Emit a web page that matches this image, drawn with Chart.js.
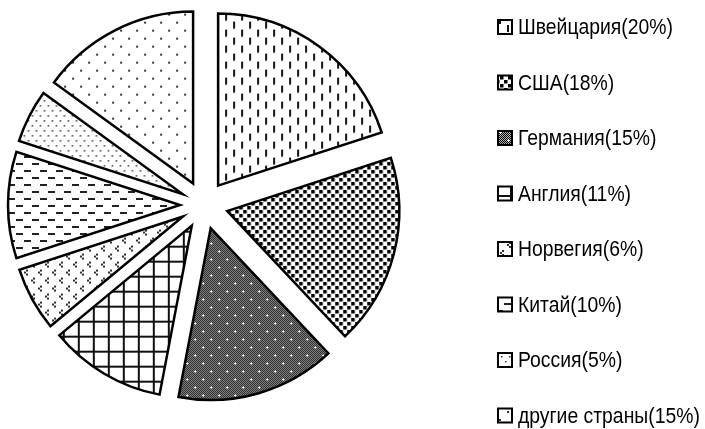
<!DOCTYPE html>
<html>
<head>
<meta charset="utf-8">
<script src="https://cdn.jsdelivr.net/npm/chart.js@4.4.1/dist/chart.umd.min.js"></script>
<style>
    html, body { margin: 0; background: #fff; }
</style>
</head>
<body>
<canvas id="pieChart" width="705" height="429"></canvas>
<script>
const countries = ['Швейцария', 'США', 'Германия', 'Англия', 'Норвегия', 'Китай', 'Россия', 'другие страны'];
const shares = [20, 18, 15, 11, 6, 10, 5, 15];
const fillKinds = ['vdash', 'confetti', 'darkgrid', 'grid', 'chevron', 'hdash', 'finedots', 'sparsedots'];

const sliceGap = 24;     // how far every slice is pulled out of the centre
const legendFont = '22px "Liberation Sans", Arial, sans-serif';
const legendSqueeze = 0.88;   // the original used a narrow face, none installed here

// little helper to build a repeating fill out of a tile
function makePattern(w, h, paint) {
    const tile = document.createElement('canvas');
    tile.width = w;
    tile.height = h;
    const g = tile.getContext('2d');
    g.fillStyle = '#fff';
    g.fillRect(0, 0, w, h);
    paint(g);
    return g.createPattern(tile, 'repeat');
}

const patternMakers = {
    vdash: () => makePattern(16, 16, g => {
        g.fillStyle = '#111';
        g.fillRect(3, 1, 2, 7);
        g.fillRect(11, 9, 2, 7);
    }),
    confetti: () => makePattern(8, 8, g => {
        g.fillStyle = '#000';
        g.fillRect(0, 0, 3.5, 3.5);
        g.fillRect(4, 4, 3.5, 3.5);
    }),
    darkgrid: () => makePattern(16, 16, g => {
        g.fillStyle = '#b0b0b0';
        g.fillRect(0, 0, 16, 16);
        g.fillStyle = '#000';
        for (let y = 0; y < 16; y++) {
            for (let x = 0; x < 16; x++) {
                if ((x + y) % 2 === 0) g.fillRect(x, y, 1, 1);
            }
        }
        g.fillStyle = '#fff';
        [[4, 4], [12, 12]].forEach(([x, y]) => {
            g.fillRect(x - 1, y, 3, 1);
            g.fillRect(x, y - 1, 1, 3);
        });
    }),
    grid: () => makePattern(15, 15, g => {
        g.fillStyle = '#111';
        g.fillRect(0, 0, 15, 2);
        g.fillRect(0, 0, 2, 15);
    }),
    chevron: () => makePattern(14, 16, g => {
        g.fillStyle = '#333';
        [[3, 2], [10, 10]].forEach(([x, y]) => {
            g.fillRect(x + 2, y, 2, 2);
            g.fillRect(x, y + 2, 2, 2);
            g.fillRect(x + 2, y + 4, 2, 2);
        });
    }),
    hdash: () => makePattern(16, 14, g => {
        g.fillStyle = '#222';
        g.fillRect(0, 2, 7, 2);
        g.fillRect(8, 9, 7, 2);
    }),
    finedots: () => makePattern(8, 10, g => {
        g.fillStyle = '#333';
        g.fillRect(1, 1, 1.5, 1.5);
        g.fillRect(5, 6, 1.5, 1.5);
    }),
    sparsedots: () => makePattern(16, 16, g => {
        g.fillStyle = '#333';
        g.fillRect(3, 3, 2, 2);
        g.fillRect(11, 11, 2, 2);
    })
};

const sliceFills = fillKinds.map(k => patternMakers[k]());
const legendLabels = countries.map((c, i) => `${c}(${shares[i]}%)`);

// pull each slice straight out along its middle angle
const ArcElement = Chart.elements ? Chart.elements.ArcElement : Chart.registry.getElement('arc');
const baseArcDraw = ArcElement.prototype.draw;
ArcElement.prototype.draw = function (ctx) {
    const mid = (this.startAngle + this.endAngle) / 2;
    ctx.save();
    ctx.translate(Math.cos(mid) * sliceGap, Math.sin(mid) * sliceGap);
    baseArcDraw.call(this, ctx);
    ctx.restore();
};

// legend drawn by hand: the built-in one wraps into two columns at this spacing
const sideLegend = {
    id: 'sideLegend',
    afterDraw(chart) {
        const ctx = chart.ctx;
        const fills = chart.data.datasets[0].backgroundColor;
        ctx.save();
        chart.data.labels.forEach((label, i) => {
            const y = 27 + i * 55.5;
            ctx.fillStyle = fills[i];
            ctx.fillRect(498, y - 7, 14, 14);
            ctx.lineWidth = 2;
            ctx.strokeStyle = '#000';
            ctx.strokeRect(498, y - 7, 14, 14);

            ctx.save();
            ctx.translate(518, y + 1);
            ctx.scale(legendSqueeze, 1);
            ctx.font = legendFont;
            ctx.textBaseline = 'middle';
            ctx.textAlign = 'left';
            ctx.fillStyle = '#000';
            ctx.fillText(label, 0, 0);
            ctx.restore();
        });
        ctx.restore();
    }
};

const pieChart = new Chart(document.getElementById('pieChart'), {
    type: 'pie',
    data: {
        labels: legendLabels,
        datasets: [{
            data: shares,
            backgroundColor: sliceFills,
            borderColor: '#000',
            borderWidth: 2.5,
            borderJoinStyle: 'miter',
            radius: 172,
            clip: false
        }]
    },
    options: {
        responsive: false,
        animation: false,
        events: [],
        layout: {
            padding: { left: 10, right: 307, top: 10, bottom: 29 }
        },
        plugins: {
            legend: { display: false },
            tooltip: { enabled: false }
        }
    },
    plugins: [sideLegend]
});
</script>
</body>
</html>
